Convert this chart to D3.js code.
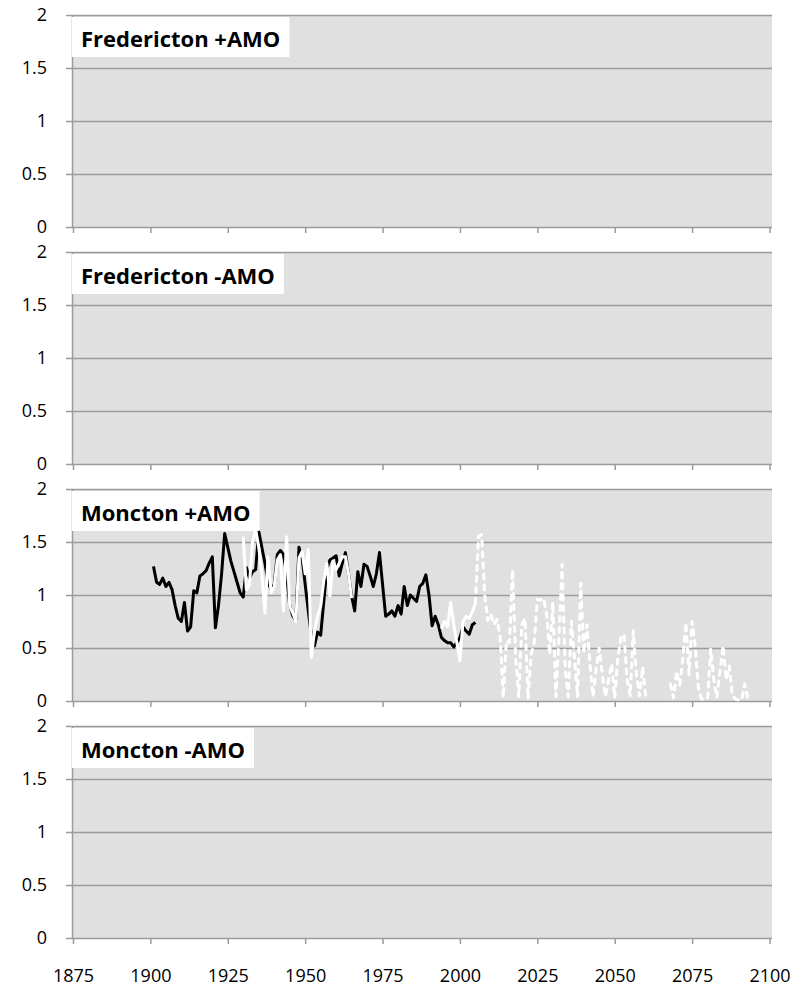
<!doctype html>
<html>
<head>
<meta charset="utf-8">
<style>
    body { margin: 0; background: #fff; }
    .title { font-family: "Open Sans", sans-serif; font-weight: bold; font-size: 22px; }
</style>
<script src="https://d3js.org/d3.v7.min.js"></script>
</head>
<body>
<svg width="803" height="994" id="chart"></svg>
<script>

    // panels, top to bottom
    var titles = ["Fredericton +AMO", "Fredericton -AMO", "Moncton +AMO", "Moncton -AMO"];
    var yTicks = [0, 0.5, 1, 1.5, 2];
    var xTicks = [1875, 1900, 1925, 1950, 1975, 2000, 2025, 2050, 2075, 2100];

    // Moncton +AMO: observed (black), 1901-2005
    var obsStart = 1901;
    var obsValues = [
        1.27, 1.12, 1.10, 1.16, 1.08, 1.12, 1.05, 0.90, 0.78, 0.75,
        0.93, 0.66, 0.70, 1.04, 1.02, 1.18, 1.20, 1.23, 1.30, 1.36,
        0.69, 0.90, 1.20, 1.58, 1.45, 1.32, 1.22, 1.12, 1.02, 0.98,
        1.26, 1.16, 1.22, 1.24, 1.60, 1.45, 1.30, 1.12, 1.05, 1.10,
        1.38, 1.42, 1.38, 1.20, 0.90, 0.80, 0.76, 1.45, 1.35, 1.10,
        0.85, 0.62, 0.52, 0.65, 0.62, 0.93, 1.25, 1.33, 1.35, 1.37,
        1.18, 1.30, 1.40, 1.20, 0.99, 0.85, 1.22, 1.08, 1.29, 1.27,
        1.18, 1.08, 1.20, 1.40, 1.10, 0.80, 0.82, 0.85, 0.80, 0.90,
        0.82, 1.08, 0.90, 1.00, 0.97, 0.94, 1.08, 1.11, 1.19, 1.00,
        0.71, 0.80, 0.72, 0.60, 0.57, 0.55, 0.55, 0.51, 0.55, 0.60,
        0.70, 0.66, 0.63, 0.72, 0.74
    ];

    // simulated past (white solid), 1930-2005, gap where nothing is drawn
    var simStart = 1930;
    var simValues = [
        1.55, 1.05, 1.10, 1.50, 1.62, 1.45, 1.20, 0.83, 1.36, 1.02,
        1.08, 1.33, 1.38, 0.85, 1.55, 0.89, 0.83, 0.75, 1.35, 1.41,
        1.20, 1.43, 0.41, 0.66, 0.80, 0.89, 1.13, 1.30, 0.99, 1.32,
        1.24, 1.30, 1.36, 1.36, 1.20, 0.97,
        null, null, null, null, null, null, null, null, null, null,
        null, null, null, null, null, null, null, null, null, null,
        null, null, null, null, null, null, null, null,
        0.68, 0.75, 0.70, 0.93, 0.72, 0.55, 0.38, 0.75, 0.80, 0.78,
        0.84, 0.92
    ];

    // projection (white dashed), 2005-2093
    var projStart = 2005;
    var projValues = [
        0.92, 1.55, 1.57, 1.00, 0.76, 0.82, 0.72, 0.77, 0.60, 0.03,
        0.57, 0.55, 1.24, 0.40, 0.04, 0.72, 0.78, 0.02, 0.44, 0.55,
        0.96, 0.95, 0.97, 0.82, 0.44, 0.93, 0.04, 0.60, 1.29, 0.30,
        0.04, 0.75, 0.40, 0.04, 1.11, 0.45, 0.72, 0.35, 0.04, 0.30,
        0.50, 0.25, 0.04, 0.20, 0.35, 0.03, 0.40, 0.60, 0.63, 0.20,
        0.05, 0.66, 0.25, 0.05, 0.32, 0.04,
        null, null, null, null, null, null, null,
        0.16, 0.03, 0.28, 0.15, 0.40, 0.74, 0.25, 0.75, 0.52, 0.13,
        0.02, 0.02, 0.02, 0.49, 0.20, 0.03, 0.28, 0.52, 0.20, 0.33,
        0.05, 0.02, 0.01, 0.01, 0.16, 0.02
    ];

    function toPoints(start, values) {
        return values.map(function(v, i) { return {year: start + i, value: v}; });
    }

    var svg = d3.select("#chart");
    var top0 = 15, step = 237, ph = 212;
    var left = 72, right = 772;
    var gridColor = "#9b9b9b";

    var x = d3.scaleLinear().domain([1875, 2100]).range([73, 769.5]);

    function styleLabels(sel) {
        sel.selectAll(".tick text")
           .attr("font-family", "'Open Sans', sans-serif")
           .attr("font-size", 18)
           .attr("fill", "#000");
    }

    titles.forEach(function(title, i) {
        var top = top0 + i * step;
        var y = d3.scaleLinear().domain([0, 2]).range([top + ph, top]);
        var g = svg.append("g");

        g.append("rect")
         .attr("x", left).attr("y", top)
         .attr("width", right - left).attr("height", ph)
         .attr("fill", "#e0e0e0");

        // gridlines + y labels
        var ya = g.append("g")
         .attr("transform", "translate(66,0)")
         .call(d3.axisLeft(y).tickValues(yTicks).tickSize(-(right - 66)).tickPadding(19)
               .tickFormat(function(d) { return d; }));
        ya.select(".domain").remove();
        ya.selectAll(".tick line").attr("stroke", gridColor).attr("stroke-width", 1.5);
        styleLabels(ya);

        // x ticks
        var xa = g.append("g")
         .attr("transform", "translate(0," + (top + ph) + ")")
         .call(d3.axisBottom(x).tickValues(xTicks).tickSize(6).tickPadding(25)
               .tickFormat(i == 3 ? d3.format("d") : function() { return ""; }));
        xa.select(".domain").remove();
        xa.selectAll(".tick line").attr("stroke", gridColor).attr("stroke-width", 1.5);
        styleLabels(xa);

        g.append("line")
         .attr("x1", left + 0.5).attr("x2", left + 0.5)
         .attr("y1", top).attr("y2", top + ph)
         .attr("stroke", gridColor).attr("stroke-width", 1.5);

        if (i == 2) {
            var line = d3.line()
                .defined(function(d) { return d.value !== null; })
                .x(function(d) { return x(d.year); })
                .y(function(d) { return y(d.value); });

            g.append("path").datum(toPoints(obsStart, obsValues))
             .attr("d", line).attr("fill", "none").attr("stroke", "#000")
             .attr("stroke-width", 3).attr("stroke-linejoin", "round");

            g.append("path").datum(toPoints(simStart, simValues))
             .attr("d", line).attr("fill", "none").attr("stroke", "#fff")
             .attr("stroke-width", 3).attr("stroke-linejoin", "round");

            g.append("path").datum(toPoints(projStart, projValues))
             .attr("d", line).attr("fill", "none").attr("stroke", "#fff")
             .attr("stroke-width", 3).attr("stroke-linejoin", "round")
             .attr("stroke-linecap", "round").attr("stroke-dasharray", "5,6");
        }

        // title box
        var box = g.append("rect").attr("fill", "#fff");
        var t = g.append("text")
         .attr("class", "title")
         .attr("x", left + 9).attr("y", top + 32)
         .text(title);
        var w = t.node().getComputedTextLength();
        box.attr("x", left).attr("y", top + 2)
           .attr("width", w + 18).attr("height", 40);
    });
</script>
</body>
</html>
